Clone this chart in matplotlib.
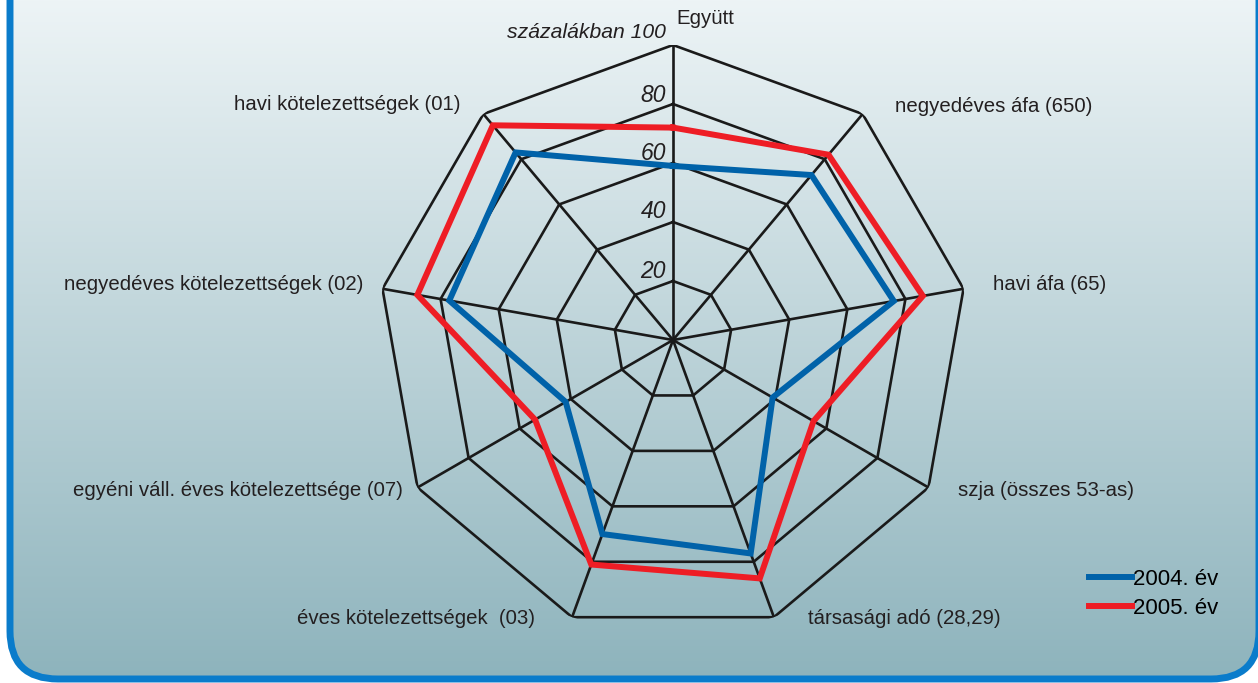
import numpy as np
import matplotlib
matplotlib.use("Agg")
import matplotlib.pyplot as plt
from matplotlib.patches import FancyBboxPatch

W, H = 1258, 683

categories = ["Együtt", "negyedéves áfa (650)", "havi áfa (65)", "szja (összes 53-as)",
              "társasági adó (28,29)", "éves kötelezettségek  (03)",
              "egyéni váll. éves kötelezettsége (07)", "negyedéves kötelezettségek (02)",
              "havi kötelezettségek (01)"]
y2004 = [59, 73, 76, 39, 77, 70, 42, 77, 83]
y2005 = [72, 82, 86, 55, 86, 81, 54, 88, 95]
rings = [20, 40, 60, 80, 100]
ring_labels = ["20", "40", "60", "80", "százalákban 100"]
series_names = ["2004. év", "2005. év"]

BLUE = "#0062a9"
RED = "#ee1d25"
TXT = "#231f20"
FS = 14.7

plt.rcParams["font.family"] = ["Liberation Sans", "DejaVu Sans"]

fig = plt.figure(figsize=(W / 100, H / 100), dpi=100)
fig.patch.set_facecolor("white")


def fx(x):
    return x / W


def fy(y):
    return 1 - y / H


# --- background panel with gradient + rounded blue border ---
bg = fig.add_axes([0, 0, 1, 1])
bg.set_xlim(0, W)
bg.set_ylim(H, 0)
bg.axis("off")
top = np.array([0xed, 0xf4, 0xf6]) / 255
bot = np.array([0x8d, 0xb3, 0xbc]) / 255
t = np.linspace(0, 1, 256)[:, None]
grad = (top[None, :] * (1 - t) + bot[None, :] * t)[:, None, :]
img = bg.imshow(grad, extent=[0, W, H, 0], aspect="auto", zorder=0)
box = FancyBboxPatch((10, -80), 1249, 759, boxstyle="round,pad=0,rounding_size=48",
                     facecolor="none", edgecolor="#0a7ccb", linewidth=5, zorder=1)
bg.add_patch(box)
img.set_clip_path(box)

# --- radar in a polar axes: centre (673, 340), radius 295 px ---
cx, cy, R = 673, 340, 295
ax = fig.add_axes([fx(cx - R), fy(cy + R), 2 * R / W, 2 * R / H], projection="polar")
ax.set_facecolor("none")
ax.set_theta_zero_location("N")
ax.set_theta_direction(-1)
ax.set_ylim(0, 100)
ax.grid(False)
ax.spines["polar"].set_visible(False)
ax.set_xticks([])
ax.set_yticks([])

n = len(categories)
ang = np.arange(n) * 2 * np.pi / n
ang_c = np.append(ang, ang[0])

for r in rings:
    ax.plot(ang_c, [r] * (n + 1), color="#1a1a1a", lw=1.9, zorder=2, solid_joinstyle="miter")
for a in ang:
    ax.plot([a, a], [0, 100], color="#1a1a1a", lw=1.9, zorder=2)

for vals, col, name in ((y2004, BLUE, series_names[0]), (y2005, RED, series_names[1])):
    ax.plot(ang_c, vals + vals[:1], color=col, lw=4.3, zorder=3, label=name,
            solid_joinstyle="miter")

# --- ring labels (italic, left of the vertical spoke) ---
ring_y = [272, 212, 154, 95, 33]
ring_fs = [16.5, 16.5, 16.5, 16.5, FS + 0.5]
for lab, yy, fs in zip(ring_labels, ring_y, ring_fs):
    fig.text(fx(666), fy(yy), lab, ha="right", va="center", fontsize=fs,
             style="italic", color=TXT)

# --- category labels ---
cat_pos = [(676, 18, "left"), (895, 106, "left"), (993, 285, "left"), (958, 490, "left"),
           (808, 619, "left"), (535, 619, "right"), (403, 490, "right"),
           (363, 285, "right"), (460, 105, "right")]
for lab, (xx, yy, ha) in zip(categories, cat_pos):
    fig.text(fx(xx), fy(yy), lab, ha=ha, va="center", fontsize=FS, color=TXT)

# --- legend ---
handles, labels = ax.get_legend_handles_labels()
fig.legend(handles, labels, loc="center left", bbox_to_anchor=(fx(1080), fy(594)),
           frameon=False, fontsize=16, handlelength=1.95, handletextpad=0.05,
           labelspacing=0.35, borderaxespad=0)

fig.savefig("out.png", dpi=100)
